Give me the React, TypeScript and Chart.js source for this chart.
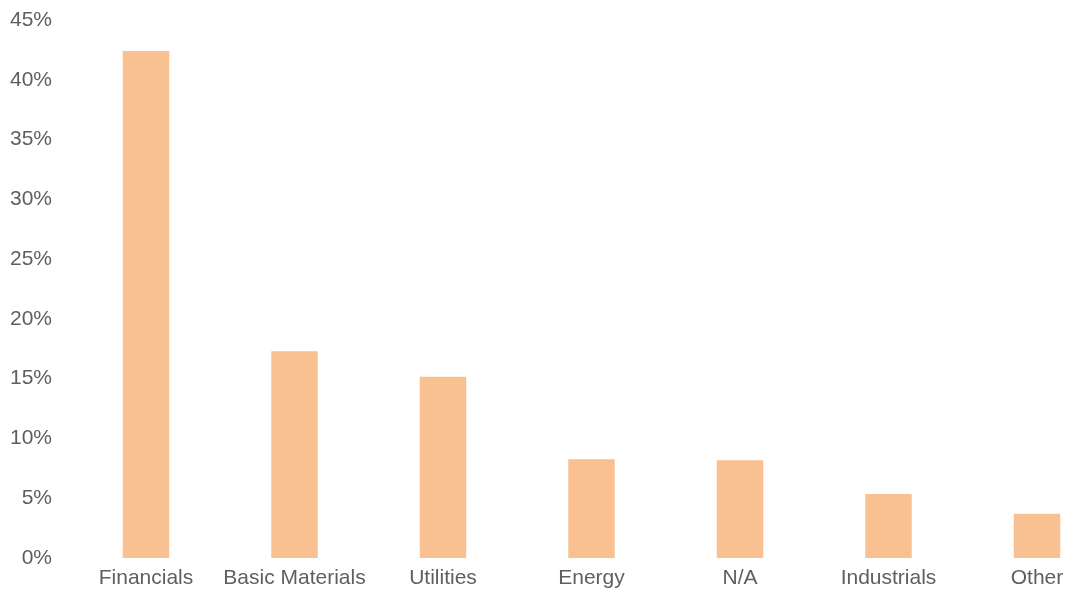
import React, { useEffect, useRef } from "react";
import { Chart, registerables } from "chart.js";

Chart.register(...registerables);

const categories = ["Financials", "Basic Materials", "Utilities", "Energy", "N/A", "Industrials", "Other"];
const weights = [42.4, 17.3, 15.15, 8.25, 8.17, 5.35, 3.7];
const yTicks = [0, 5, 10, 15, 20, 25, 30, 35, 40, 45];

export default function App() {
  const ref = useRef<HTMLCanvasElement | null>(null);
  useEffect(() => {
    document.body.style.margin = "0";
    const ctx = ref.current!;
    const font = { family: "'Liberation Sans', Arial, sans-serif", size: 21 };
    const chart = new Chart(ctx, {
      type: "bar",
      data: {
        labels: categories,
        datasets: [
          {
            data: weights,
            backgroundColor: "rgb(249,193,145)",
            borderWidth: 0,
            categoryPercentage: 1,
            barPercentage: 0.313,
            clip: false,
          } as any,
        ],
      },
      options: {
        animation: false,
        responsive: true,
        maintainAspectRatio: false,
        layout: { padding: { top: 20, right: 32, bottom: 0, left: 0 } },
        plugins: { legend: { display: false }, tooltip: { enabled: false } },
        scales: {
          x: {
            offset: false,
            grid: { display: false, drawTicks: false },
            border: { display: false },
            ticks: { color: "#5f5f5f", font, padding: 8, maxRotation: 0, autoSkip: false },
            afterFit: (s: any) => {
              s.paddingLeft = 0;
              s.paddingRight = 0;
              s.height = 32;
            },
          },
          y: {
            min: 0,
            max: 45,
            grid: { display: false, drawTicks: false },
            border: { display: false },
            afterBuildTicks: (s: any) => {
              s.ticks = yTicks.map((v) => ({ value: v }));
            },
            ticks: {
              color: "#5f5f5f",
              font,
              padding: 94,
              callback: (v: any) => v + "%",
            },
            afterFit: (s: any) => {
              s.width = 146;
              s.paddingTop = 0;
              s.paddingBottom = 0;
            },
          },
        },
      },
    });
    return () => chart.destroy();
  }, []);
  return (
    <div style={{ width: 1069, height: 590, position: "relative" }}>
      <canvas ref={ref} />
    </div>
  );
}
